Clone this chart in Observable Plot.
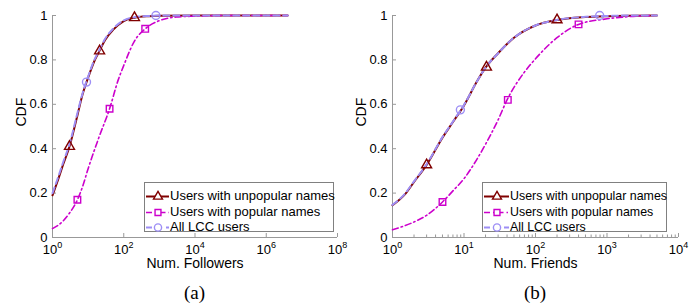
<!DOCTYPE html>
<html><head><meta charset="utf-8">
<script src="https://cdn.jsdelivr.net/npm/d3@7"></script>
<script src="https://cdn.jsdelivr.net/npm/@observablehq/plot@0.6"></script>
<style>
body{margin:0;background:#fff;}
#wrap{display:flex;width:698px;height:306px;overflow:hidden;}
.panel{position:relative;width:349px;height:306px;flex:none;}
.legend{position:absolute;background:#fff;border:1px solid #808080;font-family:"Liberation Sans",Arial,sans-serif;box-sizing:border-box;color:#000;}
.legend .row{position:absolute;left:1px;display:flex;align-items:center;height:14px;line-height:14px;white-space:nowrap;}
.legend .row svg{flex:none;display:block;}
.caption{position:absolute;top:281px;line-height:24px;text-align:center;font-family:"Liberation Serif","Times New Roman",serif;font-size:19px;color:#000;}
</style>
</head><body>
<div id="wrap"></div>
<script>
// ---------- shared ----------
const yTicks = [0, 0.2, 0.4, 0.6, 0.8, 1];
const seriesNames = ["Users with unpopular names", "Users with popular names", "All LCC users"];
const seriesColors = ["#800000", "#cc00cc", "#9d8ef5"];

// ---------- panel (a): Num. Followers ----------
const followersTicks = [1, 1e2, 1e4, 1e6, 1e8];
const followersUnpopX = [1, 1.5, 2, 3, 5, 7, 10, 15, 20, 30, 50, 100, 200, 500, 1000, 1e4, 1e5, 1e6, 4e6];
const followersUnpopY = [0.19, 0.27, 0.33, 0.41, 0.55, 0.645, 0.72, 0.795, 0.835, 0.89, 0.935, 0.975, 0.99, 0.997, 0.999, 1, 1, 1, 1];
const followersPopX = [1, 2, 3, 5, 7, 10, 20, 40, 70, 100, 200, 400, 1000, 3000, 1e4, 1e5, 1e6, 4e6];
const followersPopY = [0.04, 0.075, 0.11, 0.17, 0.23, 0.31, 0.45, 0.58, 0.71, 0.775, 0.885, 0.94, 0.977, 0.993, 0.997, 1, 1, 1];
const followersAllX = [1, 1.5, 2, 3, 5, 7, 10, 15, 20, 30, 50, 100, 200, 500, 1000, 1e4, 1e5, 1e6, 4e6];
const followersAllY = [0.2, 0.28, 0.34, 0.42, 0.56, 0.65, 0.725, 0.8, 0.84, 0.895, 0.94, 0.978, 0.992, 0.998, 1, 1, 1, 1, 1];
const followersUnpopMarkX = [3, 21, 200];
const followersUnpopMarkY = [0.41, 0.84, 0.99];
const followersPopMarkX = [5, 40, 400];
const followersPopMarkY = [0.17, 0.58, 0.94];
const followersAllMarkX = [9, 800];
const followersAllMarkY = [0.70, 1.0];

// ---------- panel (b): Num. Friends ----------
const friendsTicks = [1, 10, 100, 1000, 10000];
const friendsMinorTicks = [2,3,4,5,6,7,8,9, 20,30,40,50,60,70,80,90, 200,300,400,500,600,700,800,900, 2000,3000,4000,5000,6000,7000,8000,9000];
const friendsUnpopX = [1, 1.5, 2, 3, 5, 7, 10, 15, 20, 30, 50, 100, 200, 500, 1000, 2000, 5000];
const friendsUnpopY = [0.145, 0.195, 0.25, 0.327, 0.45, 0.52, 0.595, 0.70, 0.765, 0.83, 0.90, 0.955, 0.98, 0.993, 0.997, 0.999, 1];
const friendsPopX = [1, 2, 3, 5, 7, 10, 15, 20, 30, 40, 70, 100, 200, 400, 1000, 2000, 5000];
const friendsPopY = [0.035, 0.07, 0.10, 0.16, 0.21, 0.265, 0.35, 0.42, 0.53, 0.62, 0.745, 0.805, 0.90, 0.96, 0.985, 0.995, 1];
const friendsAllX = [1, 1.5, 2, 3, 5, 7, 10, 15, 20, 30, 50, 100, 200, 500, 1000, 2000, 5000];
const friendsAllY = [0.147, 0.198, 0.253, 0.33, 0.452, 0.522, 0.597, 0.70, 0.765, 0.83, 0.90, 0.955, 0.98, 0.994, 0.998, 1, 1];
const friendsUnpopMarkX = [3, 20.6, 200];
const friendsUnpopMarkY = [0.327, 0.767, 0.98];
const friendsPopMarkX = [5, 41, 400];
const friendsPopMarkY = [0.16, 0.62, 0.96];
const friendsAllMarkX = [8.9, 790];
const friendsAllMarkY = [0.575, 1.0];

const rows = (xs, ys) => xs.map((x, i) => ({x, y: ys[i]}));

const lineStyles = [
  {strokeWidth: 2, strokeDasharray: null},
  {strokeWidth: 1.6, strokeDasharray: "6,3,1.5,3"},
  {strokeWidth: 2, strokeDasharray: "6,4"}
];
const symbols = ["triangle", "square", "circle"];
const symbolR = [3.7, 3.7, 4];

function makePanel(cfg) {
  const W = 349, H = 275;
  const plotW = W - cfg.ml - cfg.mr, plotH = H - cfg.mt - cfg.mb;
  const axisColor = "#999";
  const marks = [
    Plot.ruleX([cfg.xDomain[0]], {x: d => d, stroke: axisColor}),
    Plot.ruleY([0], {y: d => d, stroke: axisColor}),
    Plot.tickX(cfg.xTicks, {x: d => d, stroke: axisColor, insetTop: plotH - 4}),
    Plot.tickX(cfg.xMinor, {x: d => d, stroke: axisColor, insetTop: plotH - 2.5}),
    Plot.tickY(yTicks, {y: d => d, stroke: axisColor, insetRight: plotW - 4}),
    Plot.axisX({ticks: cfg.xTicks, tickSize: 0, tickPadding: 7, label: null, fontSize: 13,
      tickFormat: d => "10^" + Math.round(Math.log10(d))}),
    Plot.axisY({ticks: yTicks, tickSize: 0, tickPadding: 5, label: null, fontSize: 13,
      tickFormat: d => String(d)}),
    Plot.text([cfg.xLabel], {text: d => d, frameAnchor: "bottom", dy: 30, fontSize: 14, fill: "#000"}),
    Plot.text(["CDF"], {text: d => d, frameAnchor: "left", dx: -31, rotate: -90, fontSize: 14, fill: "#000"})
  ];
  cfg.series.forEach((s, i) => {
    marks.push(Plot.line(rows(s.x, s.y), {x: "x", y: "y", stroke: seriesColors[i],
      strokeWidth: lineStyles[i].strokeWidth, strokeDasharray: lineStyles[i].strokeDasharray,
      curve: "monotone-x"}));
  });
  cfg.series.forEach((s, i) => {
    marks.push(Plot.dot(rows(s.mx, s.my), {x: "x", y: "y", symbol: symbols[i], r: symbolR[i],
      stroke: seriesColors[i], fill: "none", strokeWidth: 1.4}));
  });
  const svg = Plot.plot({
    width: W, height: H,
    marginLeft: cfg.ml, marginRight: cfg.mr, marginTop: cfg.mt, marginBottom: cfg.mb,
    style: {fontFamily: '"Liberation Sans", Arial, sans-serif', color: "#000", background: "#fff", overflow: "visible"},
    x: {type: "log", domain: cfg.xDomain, axis: null},
    y: {domain: [0, 1], axis: null},
    marks
  });
  svg.style.display = "block";
  // superscript exponents on x tick labels
  svg.querySelectorAll('g[aria-label="x-axis tick label"] text').forEach(t => {
    const s = t.textContent;
    const m = s.match(/^10\^(-?\d+)$/);
    if (!m) return;
    t.textContent = "10";
    const ts = document.createElementNS("http://www.w3.org/2000/svg", "tspan");
    ts.setAttribute("dy", "-6");
    ts.setAttribute("font-size", "9");
    ts.textContent = m[1];
    t.appendChild(ts);
  });
  const div = document.createElement("div");
  div.className = "panel";
  div.appendChild(svg);

  // legend
  const leg = document.createElement("div");
  leg.className = "legend";
  leg.style.left = cfg.legendLeft + "px";
  leg.style.top = "182px";
  leg.style.width = cfg.legendWidth + "px";
  leg.style.height = "50px";
  leg.style.fontSize = cfg.legendFont + "px";
  const rowTops = [6, 22, 37];
  seriesNames.forEach((name, i) => {
    const row = document.createElement("div");
    row.className = "row";
    row.style.top = rowTops[i] + "px";
    const sw = Plot.plot({
      width: cfg.swatchW, height: 14, margin: 0,
      x: {domain: [0, 1], axis: null}, y: {domain: [0, 1], axis: null},
      style: {background: "transparent", overflow: "visible"},
      marks: [
        Plot.ruleY([0.5], {y: d => d, stroke: seriesColors[i], strokeWidth: lineStyles[i].strokeWidth,
          strokeDasharray: lineStyles[i].strokeDasharray}),
        Plot.dot([0.5], {x: d => d, y: 0.5, symbol: symbols[i], r: symbolR[i] * 0.9,
          stroke: seriesColors[i], fill: "#fff", strokeWidth: 1.4})
      ]
    });
    sw.style.display = "block";
    row.appendChild(sw);
    const sp = document.createElement("span");
    sp.textContent = name;
    sp.style.marginLeft = "1px";
    row.appendChild(sp);
    leg.appendChild(row);
  });
  div.appendChild(leg);

  const cap = document.createElement("div");
  cap.className = "caption";
  cap.style.left = cfg.ml + "px";
  cap.style.width = plotW + "px";
  cap.textContent = cfg.caption;
  div.appendChild(cap);
  return div;
}

const wrap = document.getElementById("wrap");
wrap.appendChild(makePanel({
  xDomain: [1, 1e8], xTicks: followersTicks, xMinor: [], xLabel: "Num. Followers",
  ml: 52, mr: 12, mt: 15, mb: 38,
  legendLeft: 144, legendWidth: 190, legendFont: 13, swatchW: 23, caption: "(a)",
  series: [
    {x: followersUnpopX, y: followersUnpopY, mx: followersUnpopMarkX, my: followersUnpopMarkY},
    {x: followersPopX, y: followersPopY, mx: followersPopMarkX, my: followersPopMarkY},
    {x: followersAllX, y: followersAllY, mx: followersAllMarkX, my: followersAllMarkY}
  ]
}));
wrap.appendChild(makePanel({
  xDomain: [1, 1e4], xTicks: friendsTicks, xMinor: friendsMinorTicks, xLabel: "Num. Friends",
  ml: 43, mr: 20, mt: 15, mb: 38,
  legendLeft: 133, legendWidth: 185, legendFont: 12.4, swatchW: 25, caption: "(b)",
  series: [
    {x: friendsUnpopX, y: friendsUnpopY, mx: friendsUnpopMarkX, my: friendsUnpopMarkY},
    {x: friendsPopX, y: friendsPopY, mx: friendsPopMarkX, my: friendsPopMarkY},
    {x: friendsAllX, y: friendsAllY, mx: friendsAllMarkX, my: friendsAllMarkY}
  ]
}));
</script>
</body></html>
